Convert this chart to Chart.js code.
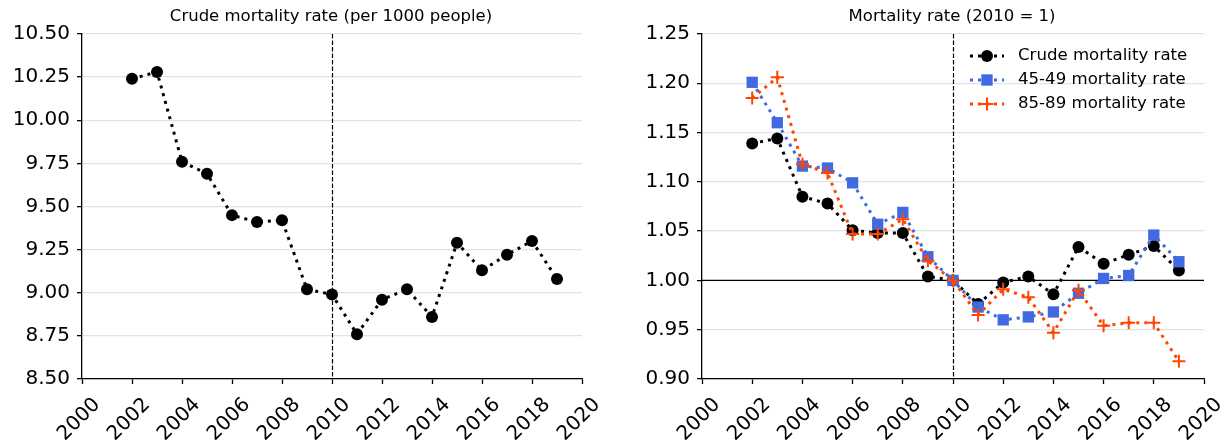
<!DOCTYPE html>
<html>
<head>
<meta charset="utf-8">
<script src="https://cdn.jsdelivr.net/npm/chart.js@4"></script>
<style>
  html, body { margin: 0; padding: 0; background: #fff; }
  #wrap { position: relative; width: 1225px; height: 440px; }
  .box { position: absolute; top: 0; height: 440px; }
</style>
</head>
<body>
<div id="wrap">
  <div class="box" style="left:0;width:612px"><canvas id="crudeChart" width="612" height="440"></canvas></div>
  <div class="box" style="left:612px;width:613px"><canvas id="relChart" width="613" height="440"></canvas></div>
</div>
<script>
// data
const years = [2002, 2003, 2004, 2005, 2006, 2007, 2008, 2009, 2010, 2011, 2012, 2013, 2014, 2015, 2016, 2017, 2018, 2019];
const crudeRate = [10.24, 10.28, 9.76, 9.69, 9.45, 9.41, 9.42, 9.02, 8.99, 8.76, 8.96, 9.02, 8.86, 9.29, 9.13, 9.22, 9.30, 9.08];
const crudeIndex = [1.139, 1.144, 1.085, 1.078, 1.051, 1.048, 1.048, 1.004, 1.000, 0.976, 0.998, 1.004, 0.986, 1.034, 1.017, 1.026, 1.035, 1.010];
const age4549Index = [1.201, 1.160, 1.116, 1.114, 1.099, 1.057, 1.069, 1.024, 1.000, 0.973, 0.960, 0.963, 0.968, 0.987, 1.002, 1.005, 1.046, 1.019];
const age8589Index = [1.185, 1.206, 1.118, 1.109, 1.047, 1.047, 1.062, 1.020, 1.000, 0.965, 0.991, 0.983, 0.947, 0.990, 0.954, 0.957, 0.957, 0.918];

const xTicks = [2000, 2002, 2004, 2006, 2008, 2010, 2012, 2014, 2016, 2018, 2020];
const crudeTicks = [8.5, 8.75, 9.0, 9.25, 9.5, 9.75, 10.0, 10.25, 10.5];
const relTicks = [0.9, 0.95, 1.0, 1.05, 1.1, 1.15, 1.2, 1.25];

const baseYear = 2010;
const baseValue = 1;

const FONT = "'DejaVu Sans', sans-serif";

function pts(vals) {
  return years.map((y, i) => ({ x: y, y: vals[i] }));
}

function series(label, vals, color, style, radius, order) {
  return {
    label: label,
    data: pts(vals),
    borderColor: color,
    backgroundColor: color,
    borderWidth: 3,
    borderDash: [3, 5],
    borderCapStyle: "butt",
    tension: 0,
    pointStyle: style,
    pointRadius: radius,
    pointBackgroundColor: color,
    pointBorderColor: color,
    pointBorderWidth: style === "cross" ? 2 : 0,
    order: order,
  };
}

// dashed line at the base year, optional solid line at the base value
const refLines = {
  id: "refLines",
  beforeDatasetsDraw(chart, args, opts) {
    const { ctx, chartArea } = chart;
    const xs = chart.scales.x;
    const ys = chart.scales.y;
    ctx.save();
    if (opts.hline !== undefined) {
      const py = ys.getPixelForValue(opts.hline);
      ctx.strokeStyle = "#000";
      ctx.lineWidth = 1.3;
      ctx.beginPath();
      ctx.moveTo(chartArea.left, py);
      ctx.lineTo(chartArea.right, py);
      ctx.stroke();
    }
    const px = Math.round(xs.getPixelForValue(opts.vline)) + 0.5;
    ctx.strokeStyle = "#000";
    ctx.lineWidth = 1.2;
    ctx.setLineDash([4.5, 2]);
    ctx.beginPath();
    ctx.moveTo(px, chartArea.top);
    ctx.lineTo(px, chartArea.bottom);
    ctx.stroke();
    ctx.restore();
  },
};

// title above the plot area
const topTitle = {
  id: "topTitle",
  afterDraw(chart, args, opts) {
    const { ctx, chartArea } = chart;
    ctx.save();
    ctx.fillStyle = "#000";
    ctx.font = "16.5px " + FONT;
    ctx.textAlign = "center";
    ctx.textBaseline = "middle";
    ctx.fillText(opts.text, (chartArea.left + chartArea.right) / 2 - 1, 17);
    ctx.restore();
  },
};

// legend inside the plot, upper right, matplotlib style (line + marker)
const innerLegend = {
  id: "innerLegend",
  afterDraw(chart, args, opts) {
    if (!opts.show) return;
    const { ctx, chartArea } = chart;
    const x0 = chartArea.right - 234;
    ctx.save();
    ctx.font = "16.6px " + FONT;
    ctx.textBaseline = "middle";
    chart.data.datasets.forEach((ds, i) => {
      const y = chartArea.top + 22 + i * 24;
      ctx.strokeStyle = ds.borderColor;
      ctx.lineWidth = ds.borderWidth;
      ctx.setLineDash(ds.borderDash);
      ctx.beginPath();
      ctx.moveTo(x0, y);
      ctx.lineTo(x0 + 34, y);
      ctx.stroke();
      ctx.setLineDash([]);
      ctx.fillStyle = ds.pointBackgroundColor;
      ctx.strokeStyle = ds.pointBorderColor;
      ctx.lineWidth = ds.pointBorderWidth;
      Chart.helpers.drawPoint(ctx, { pointStyle: ds.pointStyle, radius: ds.pointRadius, rotation: 0, borderWidth: ds.pointBorderWidth }, x0 + 17, y);
      ctx.fillStyle = "#000";
      ctx.fillText(ds.label, x0 + 48, y);
    });
    ctx.restore();
  },
};

function makeOptions(yTicks, yWidth, padRight, title, vline, hline, legend) {
  return {
    responsive: false,
    animation: false,
    events: [],
    layout: { padding: { top: 34, right: padRight, bottom: 0, left: 0 } },
    scales: {
      x: {
        type: "linear",
        min: xTicks[0],
        max: xTicks[xTicks.length - 1],
        afterBuildTicks: (scale) => { scale.ticks = xTicks.map((v) => ({ value: v })); },
        afterFit: (scale) => {
          scale.height = 61;
          scale.paddingLeft = 0;
          scale.paddingRight = 0;
        },
        grid: { drawOnChartArea: false, drawTicks: true, tickLength: 5, tickColor: "#000", tickWidth: 1.3 },
        border: { color: "#000", width: 1.3 },
        ticks: {
          color: "#000",
          font: { family: FONT, size: 20 },
          minRotation: 45,
          maxRotation: 45,
          padding: 9,
          labelOffset: 15,
          autoSkip: false,
          callback: (v) => String(v),
        },
      },
      y: {
        type: "linear",
        min: yTicks[0],
        max: yTicks[yTicks.length - 1],
        afterBuildTicks: (scale) => { scale.ticks = yTicks.map((v) => ({ value: v })); },
        afterFit: (scale) => { scale.width = yWidth; },
        grid: { color: "#e2e2e2", lineWidth: 1.3, drawTicks: true, tickLength: 5, tickColor: "#000", tickWidth: 1.3 },
        border: { color: "#000", width: 1.3 },
        ticks: {
          color: "#000",
          font: { family: FONT, size: 20 },
          padding: 7,
          autoSkip: false,
          callback: (v) => Number(v).toFixed(2),
        },
      },
    },
    plugins: {
      legend: { display: false },
      tooltip: { enabled: false },
      refLines: { vline: vline, hline: hline },
      topTitle: { text: title },
      innerLegend: { show: legend },
    },
  };
}

new Chart(document.getElementById("crudeChart"), {
  type: "line",
  data: {
    datasets: [series("Crude mortality rate", crudeRate, "#000000", "circle", 6, 1)],
  },
  options: makeOptions(crudeTicks, 82, 30, "Crude mortality rate (per 1000 people)", baseYear, undefined, false),
  plugins: [refLines, topTitle, innerLegend],
});

new Chart(document.getElementById("relChart"), {
  type: "line",
  data: {
    datasets: [
      series("Crude mortality rate", crudeIndex, "#000000", "circle", 6, 3),
      series("45-49 mortality rate", age4549Index, "#4169e1", "rect", 8, 2),
      series("85-89 mortality rate", age8589Index, "#ff4500", "cross", 6.5, 1),
    ],
  },
  options: makeOptions(relTicks, 90, 21, "Mortality rate (2010 = 1)", baseYear, baseValue, true),
  plugins: [refLines, topTitle, innerLegend],
});
</script>
</body>
</html>
